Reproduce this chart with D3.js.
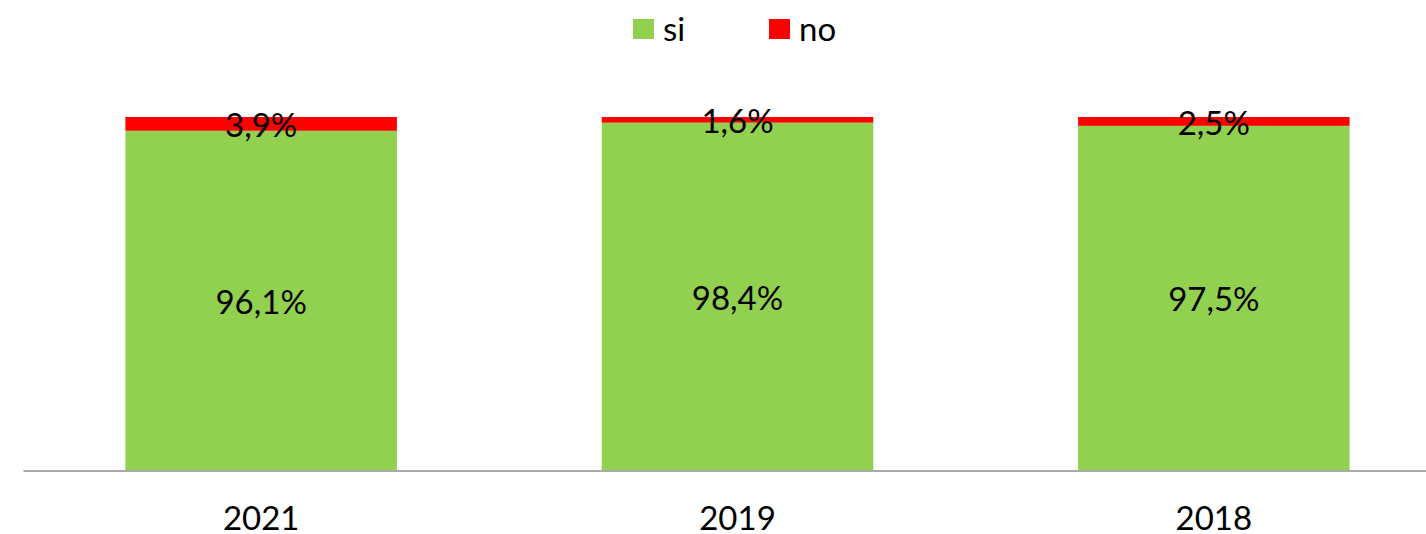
<!DOCTYPE html>
<html>
<head>
<meta charset="utf-8">
<script src="https://cdn.jsdelivr.net/npm/d3@7"></script>
<style>
  html, body { margin: 0; padding: 0; background: #fff; }
  svg { display: block; font-family: Lato, "Open Sans", sans-serif; }
</style>
</head>
<body>
<script>
// Survey answers per year, stacked to 100%
const years = ["2021", "2019", "2018"];
const siValues = [96.1, 98.4, 97.5];
const noValues = [3.9, 1.6, 2.5];
const seriesNames = ["si", "no"];
const seriesColors = ["#92D050", "#FF0000"];

const width = 1426, height = 534;
const svg = d3.select("body").append("svg")
  .attr("width", width).attr("height", height);

const rows = years.map((y, i) => ({ year: y, si: siValues[i], no: noValues[i] }));
const stacked = d3.stack().keys(seriesNames)(rows);

const x = d3.scaleBand().domain(years).range([23, 1452])
  .paddingInner(0.43).paddingOuter(0.215);
const y = d3.scaleLinear().domain([0, 100]).range([470, 117]);
const color = d3.scaleOrdinal().domain(seriesNames).range(seriesColors);

const fmt = v => d3.format(".1f")(v).replace(".", ",") + "%";

// Stacked bars
const layers = svg.append("g").selectAll("g").data(stacked).join("g")
  .attr("fill", d => color(d.key));
layers.selectAll("rect").data(d => d).join("rect")
  .attr("x", d => x(d.data.year))
  .attr("width", x.bandwidth())
  .attr("y", d => y(d[1]))
  .attr("height", d => y(d[0]) - y(d[1]));

// Value labels centred on each segment
const labels = svg.append("g").attr("font-size", 33).attr("fill", "#000")
  .attr("text-anchor", "middle");
stacked.forEach(layer => {
  labels.selectAll(null).data(layer).join("text")
    .attr("x", d => x(d.data.year) + x.bandwidth() / 2)
    .attr("y", d => (y(d[0]) + y(d[1])) / 2 + 2)
    .attr("dy", "0.35em")
    .text(d => fmt(d[1] - d[0]));
});

// Category axis
const axis = svg.append("g").attr("transform", "translate(0,470.5)")
  .call(d3.axisBottom(x).tickSize(0).tickPadding(36));
axis.select(".domain").attr("stroke", "#8c8c8c").attr("stroke-width", 1.5);
axis.selectAll("text").attr("font-size", 33).attr("fill", "#000")
  .attr("font-family", "Lato, 'Open Sans', sans-serif");

// Legend
const legendX = [633, 769];
const legend = svg.append("g").selectAll("g").data(seriesNames).join("g")
  .attr("transform", (d, i) => `translate(${legendX[i]},19)`);
legend.append("rect").attr("width", 21).attr("height", 20)
  .attr("fill", d => color(d));
legend.append("text").attr("x", 30).attr("y", 10).attr("dy", "0.35em")
  .attr("font-size", 33).attr("fill", "#000").text(d => d);
</script>
</body>
</html>
